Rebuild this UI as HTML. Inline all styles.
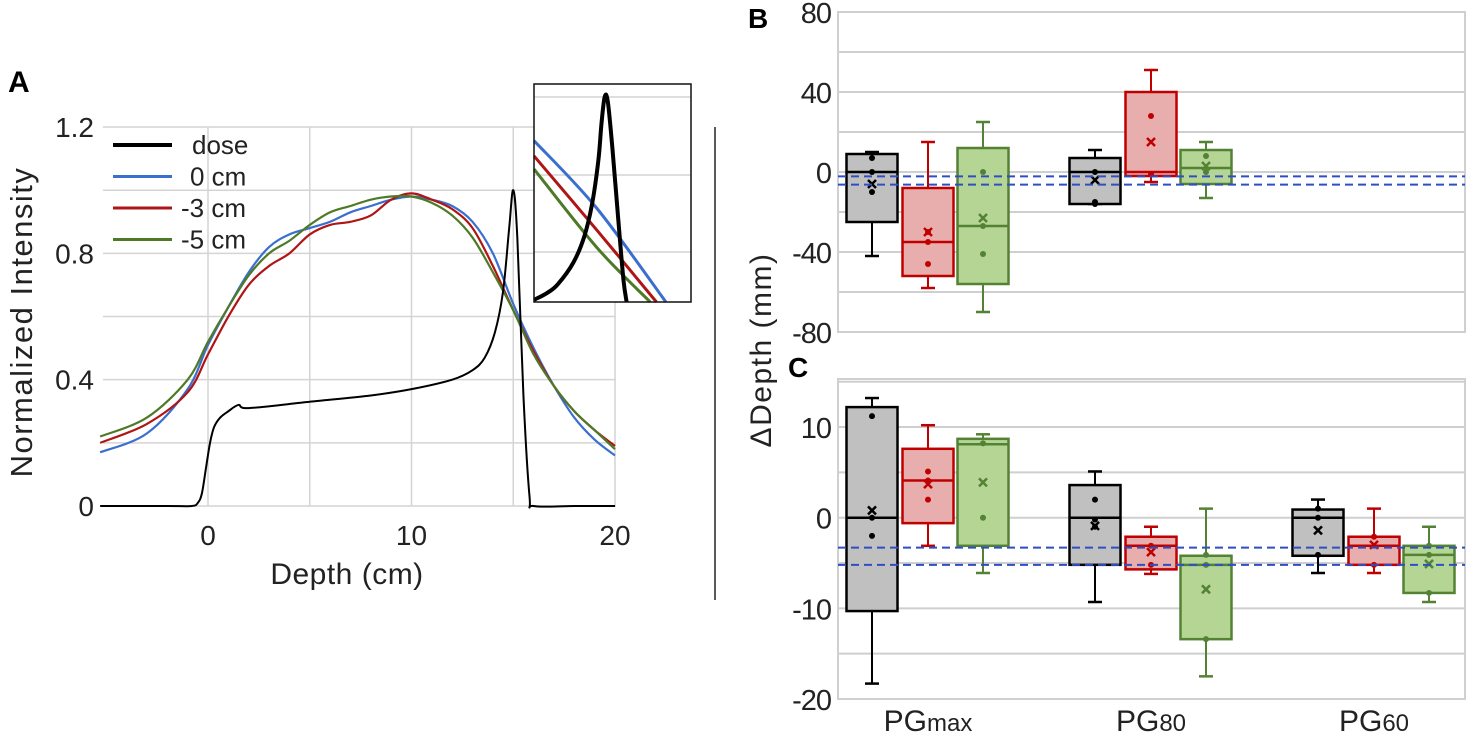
<!DOCTYPE html>
<html><head><meta charset="utf-8"><style>
body{margin:0;background:#fff;}
svg{display:block;font-family:"Liberation Sans","DejaVu Sans",sans-serif;}
</style></head><body>
<svg id="fig" width="1469" height="734" viewBox="0 0 1469 734">
<text x="8" y="92" font-size="30" font-weight="bold">A</text>
<text x="748" y="28" font-size="28" font-weight="bold">B</text>
<text x="788" y="377" font-size="28" font-weight="bold">C</text>
<line x1="715" y1="127" x2="715" y2="600" stroke="#222" stroke-width="1.5"/>
<text transform="translate(32,322) rotate(-90)" text-anchor="middle" font-size="31" letter-spacing="1.5" fill="#222">Normalized Intensity</text>
<text x="347" y="584" text-anchor="middle" font-size="30" letter-spacing="0.5" fill="#222">Depth (cm)</text>
<text transform="translate(771,350) rotate(-90)" text-anchor="middle" font-size="30" letter-spacing="1.5" fill="#222">ΔDepth (mm)</text>
<g id="gA"></g><g id="gB"></g><g id="gC"></g>
</svg>
<script>
// ---------- Panel A data ----------
const aXTicks=[0,10,20];
const aYTicks=[0,0.4,0.8,1.2];
const doseX=[-5.3,-2,-0.8,-0.5,-0.3,-0.1,0.1,0.3,0.6,1.0,1.5,2.0,5,8,10,12,13,13.6,14.1,14.5,14.8,15.0,15.2,15.5,15.8,16.0,18,20];
const doseY=[0,0,0,0.01,0.04,0.12,0.2,0.25,0.28,0.30,0.32,0.31,0.33,0.35,0.37,0.40,0.43,0.47,0.55,0.68,0.88,1.0,0.85,0.35,0.03,0,0,0];
const profX=[-5.3,-3,-1,0,1,2,3,4,5,6,7,8,9,10,11,12,13,14,15,16,17,18,19,20];
const blueY=[0.17,0.23,0.37,0.51,0.63,0.74,0.82,0.86,0.88,0.90,0.93,0.95,0.97,0.98,0.97,0.95,0.90,0.80,0.64,0.50,0.38,0.28,0.21,0.16];
const redY=[0.20,0.26,0.36,0.48,0.60,0.70,0.76,0.80,0.86,0.89,0.90,0.92,0.97,0.99,0.97,0.94,0.88,0.76,0.62,0.49,0.38,0.30,0.24,0.19];
const greenY=[0.22,0.28,0.40,0.52,0.63,0.73,0.80,0.84,0.89,0.93,0.95,0.97,0.98,0.98,0.96,0.92,0.85,0.74,0.62,0.48,0.38,0.30,0.24,0.18];
const legendLabels=["dose","0 cm","-3 cm","-5 cm"];
const legendColors=["#000","#3a6fd0","#b01515","#4e7a28"];
// inset (arbitrary zoomed units 0..100)
const insetDoseX=[0,8,15,25,32,37,41,43,45,47,50,54,57,59];
const insetDoseY=[1,4,8,18,30,45,65,82,94,92,70,35,10,0];
const insetBlue=[[0,74],[40,43],[84,0]];
const insetRed=[[0,67],[40,33],[78,0]];
const insetGreen=[[0,61],[40,25],[74,0]];

// ---------- Panel B / C data ----------
const cats=["PGmax","PG80","PG60"];
const seriesNames=["0 cm","-3 cm","-5 cm"];
// each box: [whiskerLow,q1,median,q3,whiskerHigh,mean]
const bBlack=[[-42,-25,0,9,10,-6],[-16,-16,0,7,11,-4],null];
const bRed=[[-58,-52,-35,-8,15,-30],[-5,-2,0,40,51,15],null];
const bGreen=[[-70,-56,-27,12,25,-23],[-13,-6,2,11,15,3],null];
const bBlackPts=[[7,0,-10],[0,-15,-16],[]];
const bRedPts=[[-35,-46,-30],[28,-1],[]];
const bGreenPts=[[0,-27,-41],[8,0],[]];
const bDashed=[-2.2,-6.3];
const bTicks=[-80,-40,0,40,80];
const bGrid=[-80,-60,-40,-20,0,20,40,60,80];

const cBlack=[[-18.3,-10.3,0,12.2,13.2,0.8],[-9.3,-5.2,0,3.6,5.1,-0.9],[-6.1,-4.2,0,0.9,2,-1.4]];
const cRed=[[-3.1,-0.6,4.1,7.6,10.2,3.7],[-6.2,-5.7,-3.1,-2.1,-1,-3.8],[-6.1,-5.2,-3.1,-2.1,1,-3]];
const cGreen=[[-6.1,-3.1,8.1,8.7,9.2,3.9],[-17.5,-13.4,-5.2,-4.2,1,-7.9],[-9.3,-8.3,-4.1,-3.1,-1,-5.1]];
const cBlackPts=[[11.2,0,-2],[2,-0.2,-1],[1,0,-4.1]];
const cRedPts=[[5.1,4.1,2],[-3.1,-5.2],[-2.1,-5.2]];
const cGreenPts=[[8.2,0],[-4.1,-5.2,-13.4],[-3.1,-4.1,-8.3]];
const cDashed=[-3.3,-5.2];
const cTicks=[-20,-10,0,10];
const cGrid=[-20,-15,-10,-5,0,5,10,15];

const NS="http://www.w3.org/2000/svg";
function mk(parent,tag,attrs,text){const e=document.createElementNS(NS,tag);for(const k in attrs)e.setAttribute(k,attrs[k]);if(text!==undefined)e.textContent=text;parent.appendChild(e);return e;}
function smooth(pts){let d="M"+pts[0][0]+","+pts[0][1];for(let i=0;i<pts.length-1;i++){const p0=pts[Math.max(0,i-1)],p1=pts[i],p2=pts[i+1],p3=pts[Math.min(pts.length-1,i+2)];const t=6;d+=" C"+(p1[0]+(p2[0]-p0[0])/t)+","+(p1[1]+(p2[1]-p0[1])/t)+" "+(p2[0]-(p3[0]-p1[0])/t)+","+(p2[1]-(p3[1]-p1[1])/t)+" "+p2[0]+","+p2[1];}return d;}

// ---------- Panel A ----------
const gA=document.getElementById('gA');
const ax=v=>208+v*20.35, ay=v=>506-v*315.8;
for(let v=-0.0;v<=1.21;v+=0.2){const l=mk(gA,'line',{x1:103,x2:616,y1:ay(v),y2:ay(v),stroke:'#d4d4d4','stroke-width':1.5});

}
for(let v=0;v<=20;v+=5){const l=mk(gA,'line',{x1:ax(v),x2:ax(v),y1:ay(1.2),y2:ay(0),stroke:'#d4d4d4','stroke-width':1.5});

}
aXTicks.forEach(v=>{const t=mk(gA,'text',{x:ax(v),y:545,'text-anchor':'middle','font-size':28,fill:'#222'},String(v));

});
aYTicks.forEach(v=>{const t=mk(gA,'text',{x:94,y:ay(v)+10,'text-anchor':'end','font-size':28,fill:'#222'},String(v));

});
function seriesA(xs,ys,col,w,name){const p=mk(gA,'path',{d:smooth(xs.map((x,i)=>[ax(x),ay(ys[i])])),fill:'none',stroke:col,'stroke-width':w});

}
seriesA(profX,blueY,legendColors[1],2.2,'line-0cm');
seriesA(profX,redY,legendColors[2],2.2,'line-minus3cm');
seriesA(profX,greenY,legendColors[3],2.2,'line-minus5cm');
seriesA(doseX,doseY,legendColors[0],2,'line-dose');
legendLabels.forEach((lab,i)=>{const y=145+i*31.5;
const l=mk(gA,'line',{x1:113,x2:172,y1:y,y2:y,stroke:legendColors[i],'stroke-width':i==0?4:3});


const t=mk(gA,'text',{x:i==0?192:i==1?190:181,y:y+9,'font-size':26,fill:'#222'},lab);

});
// inset
const ix=v=>534+v*1.57, iy=v=>302-v*2.18;
const ib=mk(gA,'rect',{x:534,y:84,width:157,height:218,fill:'#fff',stroke:'none'});


[97,175,252].forEach(y=>{const l=mk(gA,'line',{x1:534,x2:691,y1:y,y2:y,stroke:'#d4d4d4','stroke-width':1.5});

});
const clipG=mk(gA,'g',{});
[[insetBlue,legendColors[1],'inset-line-0cm'],[insetRed,legendColors[2],'inset-line-minus3cm'],[insetGreen,legendColors[3],'inset-line-minus5cm']].forEach(([pts,c,n])=>{
const p=mk(clipG,'path',{d:smooth(pts.map(q=>[ix(q[0]),iy(q[1])])),fill:'none',stroke:c,'stroke-width':3});

});
const idp=mk(clipG,'path',{d:smooth(insetDoseX.map((x,i)=>[ix(x),iy(insetDoseY[i])])),fill:'none',stroke:'#000','stroke-width':4});


const ibr=mk(gA,'rect',{x:534,y:84,width:157,height:218,fill:'none',stroke:'#111','stroke-width':1.5});



// ---------- Box plots ----------
const catX=[872,1095,1318];
const offs=[0,56,111];
const boxW=51;
const styles=[{f:'#c0c0c0',s:'#000'},{f:'#e8aeae',s:'#c00000'},{f:'#b5d594',s:'#548235'}];
function boxPanel(gid,top,bottom,vmin,vmax,grid,ticks,series,pts,dashed,pfx){
const g=document.getElementById(gid);
const y=v=>bottom-(v-vmin)*(bottom-top)/(vmax-vmin);
grid.forEach(v=>{const l=mk(g,'line',{x1:838,x2:1465,y1:y(v),y2:y(v),stroke:'#cfcfcf','stroke-width':2});

});
const fr=mk(g,'rect',{x:838,y:top,width:627,height:bottom-top,fill:'none',stroke:'#d0d0d0','stroke-width':2});


ticks.forEach(v=>{const t=mk(g,'text',{x:831,y:y(v)+11,'text-anchor':'end','font-size':29,fill:'#222','letter-spacing':'-1'},String(v));

});
series.forEach((ser,si)=>{ser.forEach((b,ci)=>{if(!b)return;
const cx=catX[ci]+offs[si], st=styles[si];
const wg=mk(g,'line',{x1:cx,x2:cx,y1:y(b[0]),y2:y(b[4]),stroke:st.s,'stroke-width':2});


[b[0],b[4]].forEach(v=>{const c=mk(g,'line',{x1:cx-7,x2:cx+7,y1:y(v),y2:y(v),stroke:st.s,'stroke-width':2.5});

});
const r=mk(g,'rect',{x:cx-boxW/2,y:y(b[3]),width:boxW,height:y(b[1])-y(b[3]),fill:st.f,stroke:st.s,'stroke-width':2.5});


const m=mk(g,'line',{x1:cx-boxW/2,x2:cx+boxW/2,y1:y(b[2]),y2:y(b[2]),stroke:st.s,'stroke-width':2.5});


pts[si][ci].forEach(v=>{const p=mk(g,'circle',{cx:cx,cy:y(v),r:3,fill:st.s});

});
const my=y(b[5]);
const mx=mk(g,'path',{d:`M${cx-4},${my-4}L${cx+4},${my+4}M${cx+4},${my-4}L${cx-4},${my+4}`,stroke:st.s,'stroke-width':2.5});


});});
dashed.forEach(v=>{const l=mk(g,'line',{x1:838,x2:1465,y1:y(v),y2:y(v),stroke:'#2e4fc4','stroke-width':2,'stroke-dasharray':'8,5'});

});
return g;}
boxPanel('gB',12,332,-80,80,bGrid,bTicks,[bBlack,bRed,bGreen],[bBlackPts,bRedPts,bGreenPts],bDashed,'b');
const gC=boxPanel('gC',379,699,-20,15.3,cGrid,cTicks,[cBlack,cRed,cGreen],[cBlackPts,cRedPts,cGreenPts],cDashed,'c');
cats.forEach((c,i)=>{const t=mk(gC,'text',{x:catX[i]+56,y:731,'text-anchor':'middle','font-size':30,fill:'#222'});


const a=mk(t,'tspan',{},c.slice(0,2));const b=mk(t,'tspan',{'font-size':24},c.slice(2));});
</script>
</body></html>
